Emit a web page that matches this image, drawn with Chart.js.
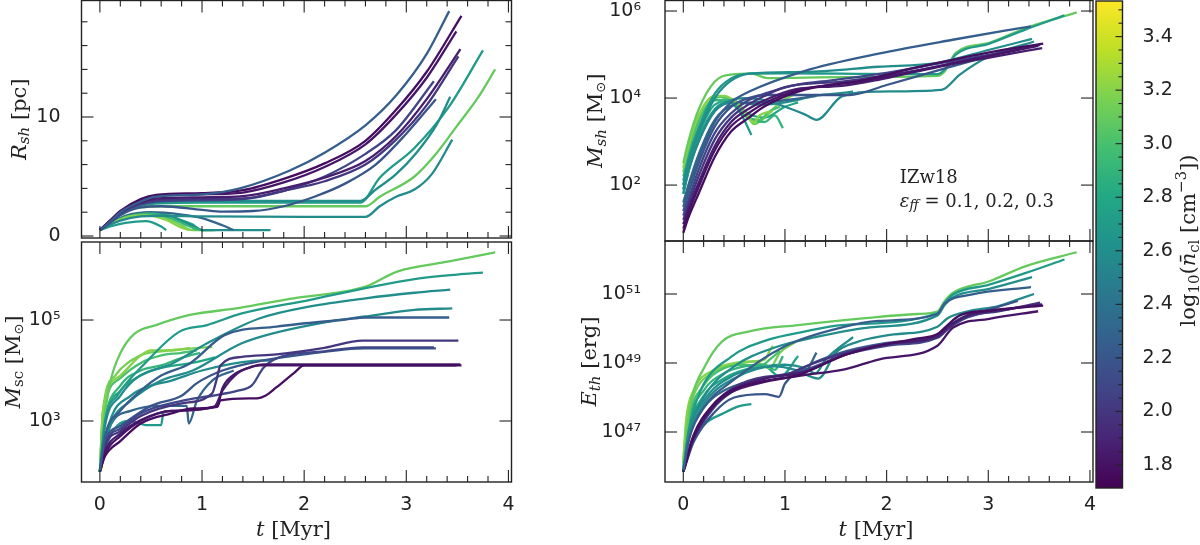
<!DOCTYPE html>
<html>
<head>
<meta charset="utf-8">
<script src="https://cdn.jsdelivr.net/npm/chart.js@4/dist/chart.umd.min.js"></script>
<style>
  html, body { margin: 0; padding: 0; background: #fff; width: 1200px; height: 545px; overflow: hidden; position: relative; }
  canvas { position: absolute; }
</style>
</head>
<body>
<canvas id="tl"></canvas>
<canvas id="bl"></canvas>
<canvas id="tr"></canvas>
<canvas id="br"></canvas>
<canvas id="cb"></canvas>
<script>
// log10 of mean cloud density for each run (colour of each line)
const runDens = [2.25, 1.78, 1.82, 1.86, 2.0, 2.1, 2.2, 2.6, 2.7, 3.1, 2.58,
                 2.7, 3.2, 2.9, 2.3, 2.6, 3.0, 3.15, 2.8, 3.5];

// shell radius [pc]
const rshLines = [
  [[0,0.5],[0.1,1.2],[0.2,2.0],[0.4,2.9],[0.55,3.3],[1.0,3.5],[1.37,4.0],[1.86,5.5],[2.2,7.0],[2.6,9.3],[2.9,11.8],[3.2,15.3],[3.42,18.9]],
  [[0,0.5],[0.1,1.3],[0.2,2.1],[0.4,3.1],[0.55,3.45],[1.0,3.6],[1.4,3.85],[1.8,4.8],[2.2,6.1],[2.6,8.0],[2.9,10.6],[3.2,13.8],[3.54,18.5]],
  [[0,0.5],[0.1,1.3],[0.2,2.05],[0.4,3.0],[0.55,3.35],[1.0,3.5],[1.4,3.65],[1.8,4.5],[2.2,5.8],[2.6,7.7],[2.9,10.2],[3.2,13.3],[3.49,17.2]],
  [[0,0.5],[0.1,1.25],[0.2,2.0],[0.4,2.85],[0.55,3.15],[1.0,3.25],[1.4,3.35],[1.8,4.0],[2.2,4.9],[2.6,6.3],[2.9,8.4],[3.2,11.5],[3.53,15.7]],
  [[0,0.5],[0.1,1.2],[0.2,1.95],[0.4,2.75],[0.55,3.0],[1.0,3.1],[1.4,3.15],[1.8,3.8],[2.2,4.6],[2.6,6.0],[2.9,8.1],[3.2,11.0],[3.51,15.1]],
  [[0,0.5],[0.1,1.2],[0.2,1.9],[0.4,2.65],[0.55,2.9],[1.0,3.0],[1.4,3.1],[1.8,3.8],[2.2,5.0],[2.6,6.9],[2.9,8.9],[3.27,13.0]],
  [[0,0.5],[0.1,1.1],[0.2,1.75],[0.4,2.4],[0.6,2.5],[1.0,2.2],[1.2,2.05],[1.5,2.1],[1.8,2.5],[2.1,3.3],[2.4,4.4],[2.7,6.0],[3.0,8.6],[3.29,11.5]],
  [[0,0.5],[0.1,1.15],[0.2,1.9],[0.4,2.6],[0.6,2.85],[1.0,2.95],[2.0,2.95],[2.55,2.95],[2.7,3.9],[2.9,5.2],[3.1,7.0],[3.3,9.4],[3.43,11.7]],
  [[0,0.5],[0.1,1.15],[0.2,1.9],[0.4,2.55],[0.6,2.75],[1.0,2.8],[2.0,2.8],[2.55,2.8],[2.74,4.9],[3.08,7.4],[3.42,10.9],[3.75,15.6]],
  [[0,0.5],[0.1,1.2],[0.2,1.9],[0.4,2.4],[0.6,2.5],[1.0,2.5],[2.0,2.5],[2.6,2.5],[2.74,3.3],[3.08,5.0],[3.3,7.0],[3.5,9.3],[3.7,11.6],[3.87,14.0]],
  [[0,0.5],[0.1,0.95],[0.2,1.3],[0.4,1.65],[0.6,1.7],[1.0,1.65],[2.0,1.6],[2.6,1.6],[2.74,2.5],[2.9,3.3],[3.08,3.9],[3.25,5.2],[3.45,8.1]],
  [[0,0.5],[0.1,0.8],[0.25,1.1],[0.45,1.25],[0.6,0.8],[0.65,0.5]],
  [[0,0.5],[0.1,1.0],[0.25,1.55],[0.45,1.75],[0.65,1.35],[0.8,0.7],[0.88,0.5]],
  [[0,0.5],[0.1,1.0],[0.25,1.6],[0.5,1.9],[0.7,1.5],[0.85,0.9],[0.98,0.5]],
  [[0,0.5],[0.1,1.05],[0.25,1.7],[0.5,2.0],[0.8,1.8],[1.0,1.5],[1.2,0.9],[1.31,0.5]],
  [[0,0.5],[0.1,1.0],[0.25,1.6],[0.5,1.9],[0.7,1.6],[0.9,0.9],[1.0,0.5],[1.67,0.5]],
  [[0,0.5],[0.1,1.0],[0.25,1.65],[0.5,1.95],[0.7,1.7],[0.85,1.0],[0.95,0.5]],
  [[0,0.5],[0.1,1.0],[0.25,1.6],[0.45,1.85],[0.65,1.5],[0.8,0.9],[0.9,0.5],[1.1,0.5]],
  [[0,0.5],[0.1,1.0],[0.25,1.55],[0.5,1.8],[0.7,1.55],[0.9,1.0],[1.0,0.5],[1.13,0.5]],
  [[0,0.5],[0.02,0.5]]
];

// log10 star cluster mass [Msun]
const mscLines = [
  [[0,2.0],[0.05,2.7],[0.2,3.2],[0.4,3.6],[0.6,3.9],[0.88,4.14],[1.22,4.7],[1.73,4.87],[2.4,5.01],[2.6,5.05],[3.42,5.05]],
  [[0,2.0],[0.05,2.3],[0.2,2.6],[0.4,2.95],[0.7,3.15],[0.91,3.25],[1.15,3.28],[1.18,3.41],[1.54,3.45],[1.62,3.5],[1.73,3.67],[1.9,3.95],[2.0,4.1],[3.54,4.1]],
  [[0,2.0],[0.05,2.35],[0.2,2.7],[0.4,3.0],[0.7,3.2],[1.15,3.3],[1.2,3.65],[1.3,3.9],[1.45,4.05],[1.56,4.1],[3.49,4.1]],
  [[0,2.0],[0.05,2.4],[0.2,2.75],[0.4,3.02],[0.7,3.2],[1.12,3.28],[1.2,3.6],[1.35,3.95],[1.5,4.08],[1.6,4.12],[3.53,4.12]],
  [[0,2.0],[0.05,2.5],[0.2,2.8],[0.4,3.1],[0.8,3.35],[1.1,3.55],[1.14,3.8],[1.18,4.1],[1.39,4.27],[1.73,4.32],[2.2,4.45],[2.57,4.59],[3.51,4.59]],
  [[0,2.0],[0.05,2.55],[0.2,2.85],[0.4,3.15],[0.8,3.4],[1.1,3.5],[1.35,3.6],[1.49,3.71],[1.6,4.05],[1.73,4.24],[2.2,4.38],[2.57,4.46],[3.27,4.46]],
  [[0,2.0],[0.05,2.6],[0.2,2.9],[0.5,3.3],[0.8,3.5],[0.95,3.75],[1.2,4.0],[1.6,4.2],[2.0,4.32],[2.6,4.44],[3.29,4.44]],
  [[0,2.0],[0.05,2.9],[0.2,3.5],[0.37,3.87],[0.71,4.14],[1.05,4.54],[1.56,5.03],[2.06,5.27],[2.6,5.43],[3.08,5.54],[3.43,5.6]],
  [[0,2.0],[0.05,3.0],[0.17,3.5],[0.44,4.14],[0.78,4.77],[1.05,4.9],[1.39,5.13],[2.06,5.4],[2.6,5.63],[3.08,5.81],[3.5,5.9],[3.75,5.94]],
  [[0,2.0],[0.03,2.8],[0.1,3.75],[0.2,4.34],[0.34,4.73],[0.55,4.9],[0.88,5.1],[1.37,5.24],[1.86,5.42],[2.6,5.66],[2.91,5.96],[3.42,6.16],[3.87,6.34]],
  [[0,2.0],[0.1,2.9],[0.3,3.4],[0.6,3.8],[0.91,4.0],[1.39,4.54],[2.06,4.9],[2.6,5.07],[3.08,5.2],[3.45,5.23]],
  [[0,2.0],[0.1,2.7],[0.3,3.0],[0.45,2.92],[0.6,2.92],[0.62,3.15],[0.65,3.2]],
  [[0,2.0],[0.03,3.2],[0.2,3.9],[0.4,4.3],[0.5,4.4],[0.7,4.4],[0.88,4.45]],
  [[0,2.0],[0.05,3.0],[0.2,3.7],[0.4,4.0],[0.6,4.1],[0.8,4.25],[0.98,4.35]],
  [[0,2.0],[0.1,2.9],[0.3,3.2],[0.6,3.3],[0.85,3.3],[0.87,2.95],[0.95,3.4],[1.1,3.8],[1.31,4.0]],
  [[0,2.0],[0.1,3.0],[0.3,3.5],[0.5,3.7],[0.7,3.8],[1.0,4.0],[1.5,4.19],[1.67,4.2]],
  [[0,2.0],[0.03,3.1],[0.2,3.85],[0.4,4.15],[0.6,4.3],[0.8,4.35],[0.95,4.4]],
  [[0,2.0],[0.03,3.2],[0.15,3.9],[0.4,4.3],[0.6,4.38],[0.8,4.42],[1.1,4.47]],
  [[0,2.0],[0.05,3.0],[0.2,3.6],[0.4,3.9],[0.6,4.05],[0.9,4.15],[1.13,4.26]],
  [[0.02,2.05],[0.025,2.8]]
];

// log10 shell mass [Msun]
const mshLines = [
  [[0,1.5],[0.05,1.9],[0.15,2.6],[0.31,3.45],[0.47,3.9],[0.65,4.15],[1.19,4.62],[1.92,5.02],[2.65,5.34],[3.42,5.65]],
  [[0,0.9],[0.05,1.25],[0.15,1.8],[0.31,2.65],[0.47,3.23],[0.64,3.54],[0.8,3.81],[1.13,4.15],[1.79,4.42],[2.28,4.7],[2.65,4.88],[3.01,5.05],[3.54,5.25]],
  [[0,1.0],[0.05,1.35],[0.15,1.95],[0.31,2.8],[0.47,3.35],[0.64,3.65],[0.8,3.88],[1.13,4.18],[1.79,4.4],[2.28,4.62],[2.65,4.8],[3.01,4.97],[3.49,5.2]],
  [[0,1.1],[0.05,1.45],[0.15,2.05],[0.31,2.9],[0.47,3.45],[0.64,3.75],[0.8,3.95],[1.1,4.2],[1.56,4.28],[1.92,4.42],[2.28,4.6],[2.65,4.78],[3.01,4.93],[3.53,5.15]],
  [[0,1.2],[0.05,1.55],[0.15,2.2],[0.31,3.05],[0.47,3.55],[0.64,3.85],[0.8,4.05],[1.0,4.25],[1.56,4.38],[2.0,4.52],[2.5,4.72],[3.0,4.98],[3.51,5.22]],
  [[0,1.3],[0.05,1.65],[0.15,2.35],[0.31,3.2],[0.47,3.65],[0.64,3.95],[0.8,4.1],[1.1,4.3],[1.5,4.42],[2.0,4.58],[2.6,4.83],[3.27,5.1]],
  [[0,1.4],[0.05,1.8],[0.15,2.5],[0.31,3.35],[0.47,3.8],[0.64,4.0],[0.83,4.07],[1.63,4.07],[2.0,4.3],[2.6,4.7],[3.29,5.15]],
  [[0,2.0],[0.05,2.5],[0.15,3.2],[0.31,4.0],[0.47,4.4],[0.65,4.56],[1.19,4.6],[1.92,4.72],[2.5,4.81],[3.01,5.11],[3.43,5.36]],
  [[0,2.1],[0.05,2.6],[0.15,3.3],[0.31,4.1],[0.47,4.45],[0.65,4.56],[1.0,4.57],[1.56,4.56],[2.5,4.55],[2.57,4.65],[2.68,5.0],[3.01,5.25],[3.37,5.58],[3.75,5.9]],
  [[0,2.5],[0.05,3.0],[0.15,3.73],[0.31,4.38],[0.47,4.54],[0.67,4.56],[0.83,4.46],[1.56,4.48],[2.5,4.51],[2.57,4.61],[2.68,5.04],[3.01,5.27],[3.37,5.61],[3.87,5.97]],
  [[0,1.9],[0.05,2.35],[0.15,3.0],[0.31,3.7],[0.47,3.95],[0.6,4.0],[0.8,3.95],[1.0,3.8],[1.2,3.62],[1.31,3.5],[1.56,4.04],[1.92,4.15],[2.54,4.19],[2.72,4.54],[3.01,4.96],[3.45,5.3]],
  [[0,1.8],[0.05,2.3],[0.15,3.05],[0.31,3.75],[0.45,3.9],[0.55,3.7],[0.62,3.4],[0.67,3.15]],
  [[0,2.4],[0.05,2.9],[0.15,3.6],[0.31,4.05],[0.4,4.05],[0.55,3.85],[0.7,3.45],[0.75,3.6],[0.88,3.7]],
  [[0,2.0],[0.05,2.5],[0.15,3.3],[0.31,3.95],[0.45,3.95],[0.6,3.6],[0.8,3.45],[0.9,3.6],[0.98,3.31]],
  [[0,1.6],[0.05,2.0],[0.15,2.7],[0.31,3.5],[0.5,3.85],[0.7,3.9],[1.0,3.95],[1.31,4.05]],
  [[0,1.8],[0.05,2.3],[0.15,3.0],[0.31,3.7],[0.5,3.9],[0.75,3.85],[1.0,3.9],[1.3,4.05],[1.5,4.1],[1.67,4.15]],
  [[0,2.2],[0.05,2.7],[0.15,3.45],[0.31,4.0],[0.4,4.03],[0.6,3.6],[0.75,3.5],[0.85,3.7],[0.95,3.8]],
  [[0,2.3],[0.05,2.8],[0.15,3.55],[0.31,4.05],[0.45,3.95],[0.6,3.7],[0.7,3.4],[0.8,3.55],[0.95,3.9],[1.1,4.1]],
  [[0,1.9],[0.05,2.4],[0.15,3.15],[0.31,3.85],[0.5,3.95],[0.6,3.7],[0.8,3.55],[1.0,3.8],[1.13,3.9]],
  [[0.02,2.55],[0.025,2.8]]
];

// log10 thermal energy [erg]
const ethLines = [
  [[0,45.85],[0.05,46.7],[0.2,47.7],[0.47,48.45],[1.01,49.5],[1.56,50.03],[1.92,50.22],[2.5,50.42],[2.57,50.72],[2.83,50.98],[3.42,51.2]],
  [[0,45.85],[0.1,46.9],[0.28,47.75],[0.47,48.2],[0.8,48.48],[1.13,48.65],[1.56,49.2],[1.92,49.5],[2.28,49.7],[2.5,49.84],[2.61,50.13],[2.72,50.38],[3.01,50.52],[3.54,50.66]],
  [[0,45.85],[0.1,46.85],[0.28,47.7],[0.47,48.15],[0.8,48.45],[1.19,48.65],[1.56,48.8],[1.92,49.1],[2.5,49.5],[2.65,50.02],[3.01,50.28],[3.49,50.5]],
  [[0,45.85],[0.1,46.8],[0.3,47.75],[0.5,48.25],[0.8,48.55],[1.2,48.75],[1.6,49.25],[2.0,49.55],[2.5,49.78],[2.62,50.08],[2.8,50.38],[3.1,50.53],[3.53,50.7]],
  [[0,45.85],[0.1,46.85],[0.3,47.8],[0.5,48.3],[0.8,48.6],[1.0,48.65],[1.2,48.9],[1.6,49.3],[2.0,49.55],[2.5,49.75],[2.62,50.05],[2.8,50.35],[3.1,50.5],[3.51,50.75]],
  [[0,45.85],[0.1,46.75],[0.3,47.7],[0.5,48.2],[0.8,48.55],[1.2,48.8],[1.6,49.25],[2.0,49.5],[2.5,49.73],[2.62,50.03],[2.8,50.33],[3.27,50.6]],
  [[0,45.85],[0.1,46.7],[0.3,47.55],[0.5,48.0],[0.8,48.1],[0.94,48.02],[1.0,48.4],[1.1,48.7],[1.5,49.25],[2.0,49.58],[2.5,49.8],[2.62,50.1],[2.8,50.4],[3.0,50.55],[3.29,50.8]],
  [[0,45.85],[0.05,46.9],[0.2,48.0],[0.5,48.9],[0.9,49.45],[1.3,49.75],[1.8,50.02],[2.5,50.38],[2.57,50.68],[2.65,50.9],[3.01,51.15],[3.43,51.49]],
  [[0,45.85],[0.05,47.0],[0.17,48.2],[0.47,49.18],[0.83,49.67],[1.19,49.91],[1.56,50.1],[2.5,50.45],[2.57,50.74],[2.65,50.98],[3.01,51.27],[3.37,51.61],[3.75,52.0]],
  [[0,45.85],[0.03,46.9],[0.08,47.93],[0.21,48.89],[0.38,49.62],[0.64,49.91],[1.13,50.1],[1.79,50.3],[2.3,50.42],[2.5,50.49],[2.57,50.79],[2.65,51.03],[3.01,51.37],[3.37,51.81],[3.87,52.21]],
  [[0,45.85],[0.05,46.8],[0.2,47.8],[0.5,48.55],[0.9,48.9],[1.1,48.8],[1.33,48.55],[1.5,49.3],[1.7,49.6],[2.0,49.8],[2.5,50.05],[2.6,50.3],[2.8,50.5],[3.1,50.65],[3.3,50.85],[3.45,51.0]],
  [[0,45.85],[0.05,46.5],[0.2,47.2],[0.4,47.55],[0.55,47.75],[0.67,47.81]],
  [[0,46.2],[0.03,47.4],[0.1,48.2],[0.3,48.8],[0.5,49.0],[0.7,49.05],[0.8,49.1],[0.85,49.35],[0.88,49.5]],
  [[0,45.9],[0.05,47.2],[0.2,48.2],[0.4,48.7],[0.6,48.9],[0.8,48.95],[0.9,48.8],[0.98,49.2]],
  [[0,45.85],[0.05,46.8],[0.2,47.7],[0.4,48.2],[0.7,48.5],[1.0,48.65],[1.2,48.75],[1.31,49.3]],
  [[0,45.85],[0.05,46.9],[0.2,47.9],[0.5,48.65],[0.8,48.9],[1.0,48.95],[1.2,48.85],[1.3,48.7],[1.4,49.1],[1.67,49.75]],
  [[0,46.0],[0.05,47.3],[0.2,48.35],[0.4,48.85],[0.6,48.95],[0.75,48.9],[0.85,49.1],[0.95,49.35]],
  [[0,46.1],[0.03,47.2],[0.1,48.05],[0.3,48.75],[0.5,48.95],[0.7,49.05],[0.85,48.85],[0.95,49.3],[1.1,49.6]],
  [[0,45.9],[0.05,47.0],[0.2,48.05],[0.4,48.55],[0.6,48.8],[0.8,48.9],[0.95,48.6],[1.13,49.2]],
  [[0.02,45.95],[0.025,46.7]]
];

const xTicks = [0, 1, 2, 3, 4];
const xRange = [-0.18, 4.03];
const rshTicks = [0, 10];
const rshMinor = [2, 4, 6, 8, 12, 14, 16, 18];
const mscTicks = [3, 5];
const mshTicks = [2, 4, 6];
const ethTicks = [47, 49, 51];
const cbTicks = [1.8, 2.0, 2.2, 2.4, 2.6, 2.8, 3.0, 3.2, 3.4];
const cbRange = [1.714, 3.533];

const viridis = ['#440154', '#482475', '#414487', '#355f8d', '#2a788e', '#21918c',
                 '#22a884', '#44bf70', '#7ad151', '#bddf26', '#fde725'];

const SANS = 'DejaVu Sans';
const SERIF = 'DejaVu Serif';
const INK = '#222';
const SUP = { '0': '⁰', '1': '¹', '2': '²', '3': '³', '4': '⁴', '5': '⁵', '6': '⁶', '7': '⁷', '8': '⁸', '9': '⁹' };

function pow10(e) {
  return '10' + String(e).split('').map(c => SUP[c]).join('');
}

function hexRgb(h) {
  return [1, 3, 5].map(i => parseInt(h.slice(i, i + 2), 16));
}

function colorFor(n) {
  let f = (n - cbRange[0]) / (cbRange[1] - cbRange[0]);
  f = Math.min(1, Math.max(0, f)) * (viridis.length - 1);
  const i = Math.min(viridis.length - 2, Math.floor(f));
  const a = hexRgb(viridis[i]), b = hexRgb(viridis[i + 1]);
  const k = f - i;
  const c = a.map((v, j) => Math.round(v + (b[j] - v) * k));
  return `rgb(${c[0]},${c[1]},${c[2]})`;
}

function drawRich(ctx, parts, x, y, vertical, align) {
  ctx.save();
  ctx.translate(x, y);
  if (vertical) ctx.rotate(-Math.PI / 2);
  let w = 0;
  parts.forEach(p => { ctx.font = p[1]; w += ctx.measureText(p[0]).width; });
  let cx = align === 'left' ? 0 : -w / 2;
  ctx.textBaseline = 'middle';
  ctx.textAlign = 'left';
  ctx.fillStyle = INK;
  parts.forEach(p => {
    ctx.font = p[1];
    ctx.fillText(p[0], cx, p[2] || 0);
    cx += ctx.measureText(p[0]).width;
  });
  ctx.restore();
}

const big = `21px ${SERIF}`, bigI = `italic 21px ${SERIF}`;
const small = `15px ${SERIF}`, smallI = `italic 15px ${SERIF}`;

function place(canvas, f, m) {
  const left = Math.floor(f.l) - m.l, top = Math.floor(f.t) - m.t;
  const w = Math.ceil(f.r) + m.r - left, h = Math.ceil(f.b) + m.b - top;
  canvas.width = w;
  canvas.height = h;
  canvas.style.left = left + 'px';
  canvas.style.top = top + 'px';
  canvas.style.width = w + 'px';
  canvas.style.height = h + 'px';
  return {
    left: f.l - left - m.yw,
    top: f.t - top,
    right: left + w - f.r - (m.rw || 0),
    bottom: top + h - f.b - m.xh
  };
}

function framePlugin(cfg) {
  return {
    id: 'frame',
    afterDatasetsDraw(chart) {
      const { ctx, chartArea: a, scales: { x, y } } = chart;
      ctx.save();
      ctx.strokeStyle = INK;
      ctx.lineWidth = 1.1;
      const seg = (x1, y1, x2, y2) => { ctx.beginPath(); ctx.moveTo(x1, y1); ctx.lineTo(x2, y2); ctx.stroke(); };
      for (let i = Math.ceil(x.min / 0.2); i * 0.2 <= x.max + 1e-9; i++) {
        const v = i * 0.2;
        const px = x.getPixelForValue(v);
        const L = Math.abs(v - Math.round(v)) < 1e-6 ? 12 : 6;
        seg(px, a.bottom, px, a.bottom - L);
        seg(px, a.top, px, a.top + L);
      }
      cfg.yMajor.forEach(v => {
        const py = y.getPixelForValue(v);
        seg(a.left, py, a.left + 12, py);
        seg(a.right, py, a.right - 12, py);
      });
      (cfg.yMinor || []).forEach(v => {
        const py = y.getPixelForValue(v);
        seg(a.left, py, a.left + 6, py);
        seg(a.right, py, a.right - 6, py);
      });
      ctx.lineWidth = 1.4;
      ctx.strokeRect(a.left, a.top, a.right - a.left, a.bottom - a.top);
      ctx.restore();
    },
    afterDraw(chart) {
      const { ctx, chartArea: a, scales: { x, y } } = chart;
      drawRich(ctx, cfg.title, a.left - cfg.titleDx, (a.top + a.bottom) / 2, true);
      if (cfg.xTitle) {
        drawRich(ctx, [['t', bigI], [' [Myr]', big]], (a.left + a.right) / 2 - 3, a.bottom + 49, false);
      }
      if (cfg.note) {
        const nx = x.getPixelForValue(2.13);
        drawRich(ctx, [['IZw18', `18px ${SERIF}`]], nx, y.getPixelForValue(10 ** 2.145), false, 'left');
        drawRich(ctx, [['ε', `italic 18px ${SERIF}`], ['ff', `italic 13px ${SERIF}`, 4],
          [' = 0.1, 0.2, 0.3', `18px ${SERIF}`]], nx, y.getPixelForValue(10 ** 1.615), false, 'left');
      }
    }
  };
}

function makePanel(id, f, cfg) {
  const canvas = document.getElementById(id);
  const xh = cfg.xTitle ? 45 : 0;
  const pad = place(canvas, f, { l: 100, t: 40, r: 40, b: 80, yw: 70, xh });
  const datasets = cfg.lines.map((pts, i) => ({
    data: pts.map(p => ({ x: p[0], y: cfg.log ? 10 ** p[1] : p[1] })),
    borderColor: colorFor(runDens[i]),
    borderWidth: 2.3,
    pointRadius: 0,
    fill: false,
    cubicInterpolationMode: 'monotone'
  }));
  const tickFont = { family: SANS, size: 19 };
  new Chart(canvas, {
    type: 'line',
    data: { datasets },
    options: {
      responsive: false,
      animation: false,
      devicePixelRatio: 1,
      layout: { padding: pad },
      plugins: { legend: { display: false }, tooltip: { enabled: false } },
      scales: {
        x: {
          type: 'linear',
          bounds: 'data',
          min: xRange[0],
          max: xRange[1],
          display: !!cfg.xTitle,
          grid: { display: false },
          border: { display: false },
          afterBuildTicks: s => { s.ticks = xTicks.map(v => ({ value: v })); },
          afterFit: s => { s.height = xh; },
          ticks: { font: tickFont, color: INK, padding: 4, maxRotation: 0, autoSkip: false, callback: v => String(v) }
        },
        y: {
          type: cfg.log ? 'logarithmic' : 'linear',
          bounds: 'data',
          min: cfg.log ? 10 ** cfg.range[0] : cfg.range[0],
          max: cfg.log ? 10 ** cfg.range[1] : cfg.range[1],
          grid: { display: false },
          border: { display: false },
          afterBuildTicks: s => { s.ticks = cfg.yMajor.map(v => ({ value: v })); },
          afterFit: s => { s.width = 70; },
          ticks: {
            font: tickFont, color: INK, padding: cfg.labelPad, autoSkip: false,
            callback: v => cfg.log ? pow10(Math.round(Math.log10(v))) : String(v)
          }
        }
      }
    },
    plugins: [framePlugin(cfg)]
  });
}

makePanel('tl', { l: 81.5, r: 511.5, t: 0.5, b: 238 }, {
  lines: rshLines, log: false, range: [-0.168, 19.79], yMajor: rshTicks, yMinor: rshMinor,
  labelPad: 13, titleDx: 61, title: [['R', bigI], ['sh', smallI, 5], [' [pc]', big]]
});
makePanel('bl', { l: 81.5, r: 511.5, t: 242, b: 482 }, {
  lines: mscLines, log: true, range: [1.792, 6.545], yMajor: mscTicks.map(e => 10 ** e),
  labelPad: 13, titleDx: 67, xTitle: true,
  title: [['M', bigI], ['sc', small, 5], [' [M', big], ['⊙', `13px ${SANS}`, 5], [']', big]]
});
makePanel('tr', { l: 665, r: 1093, t: 0.5, b: 241 }, {
  lines: mshLines, log: true, range: [0.715, 6.242], yMajor: mshTicks.map(e => 10 ** e),
  labelPad: 16, titleDx: 68, note: true,
  title: [['M', bigI], ['sh', smallI, 5], [' [M', big], ['⊙', `13px ${SANS}`, 5], [']', big]]
});
makePanel('br', { l: 665, r: 1093, t: 241, b: 482 }, {
  lines: ethLines, log: true, range: [45.551, 52.536], yMajor: ethTicks.map(e => 10 ** e),
  labelPad: 16, titleDx: 74, xTitle: true,
  title: [['E', bigI], ['th', smallI, 5], [' [erg]', big]]
});

// colour bar
const cbCanvas = document.getElementById('cb');
const cbPad = place(cbCanvas, { l: 1096, r: 1122.5, t: 1, b: 488 }, { l: 30, t: 40, r: 110, b: 40, yw: 0, rw: 70, xh: 0 });
new Chart(cbCanvas, {
  type: 'line',
  data: { datasets: [] },
  options: {
    responsive: false,
    animation: false,
    devicePixelRatio: 1,
    layout: { padding: cbPad },
    plugins: { legend: { display: false }, tooltip: { enabled: false } },
    scales: {
      x: { type: 'linear', display: false, min: 0, max: 1, afterFit: s => { s.height = 0; } },
      y: {
        type: 'linear',
        position: 'right',
        bounds: 'data',
        min: cbRange[0],
        max: cbRange[1],
        grid: { display: false },
        border: { display: false },
        afterBuildTicks: s => { s.ticks = cbTicks.map(v => ({ value: v })); },
        afterFit: s => { s.width = 70; },
        ticks: { font: { family: SANS, size: 19 }, color: INK, padding: 12, callback: v => v.toFixed(1) }
      }
    }
  },
  plugins: [{
    id: 'cbar',
    beforeDatasetsDraw(chart) {
      const { ctx, chartArea: a, scales: { y } } = chart;
      const g = ctx.createLinearGradient(0, y.getPixelForValue(cbRange[0]), 0, y.getPixelForValue(cbRange[1]));
      viridis.forEach((c, i) => g.addColorStop(i / (viridis.length - 1), c));
      ctx.save();
      ctx.fillStyle = g;
      ctx.fillRect(a.left, a.top, a.right - a.left, a.bottom - a.top);
      ctx.strokeStyle = INK;
      ctx.lineWidth = 1.1;
      for (let i = Math.ceil(cbRange[0] / 0.05); i * 0.05 <= cbRange[1]; i++) {
        const v = i * 0.05;
        const py = y.getPixelForValue(v);
        const major = Math.abs(v * 5 - Math.round(v * 5)) < 1e-6;
        ctx.beginPath();
        ctx.moveTo(a.right, py);
        ctx.lineTo(a.right - (major ? 7 : 4), py);
        ctx.stroke();
      }
      ctx.lineWidth = 1.4;
      ctx.strokeRect(a.left, a.top, a.right - a.left, a.bottom - a.top);
      ctx.restore();
      drawRich(ctx, [['log', big], ['10', small, 5], ['(', big], ['n̄', bigI], ['cl', small, 5],
        [' [cm', big], ['−3', small, -8], ['])', big]], a.right + 67.5, (a.top + a.bottom) / 2 - 4, true);
    }
  }]
});
</script>
</body>
</html>
